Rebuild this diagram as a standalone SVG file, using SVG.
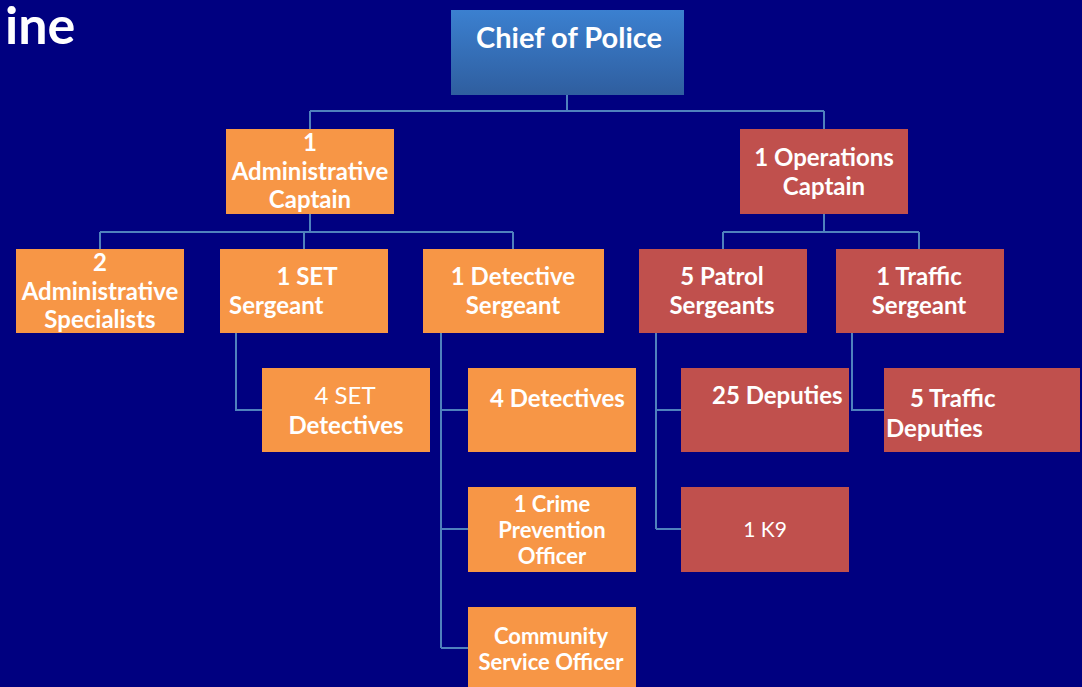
<svg xmlns="http://www.w3.org/2000/svg" width="1082" height="687" viewBox="0 0 1082 687">
<defs>
<linearGradient id="g" x1="0" y1="0" x2="0" y2="1"><stop offset="0" stop-color="#3b80d0"/><stop offset="1" stop-color="#2f5e9f"/></linearGradient>
<style>
.o{fill:#f79646}.r{fill:#c0504d}
text{font-family:Lato,"Open Sans","Liberation Sans",sans-serif;fill:#fff;font-weight:bold;font-size:24px}
.c{text-anchor:middle}.n{font-weight:normal}
.ln{fill:none;stroke:#4f81bd;stroke-width:2}
</style>
</defs>
<rect width="1082" height="687" fill="#000080"/>
<text x="5" y="44" style="font-size:52px">ine</text>
<g id="connectors" class="ln">
<path d="M567 95V111M310 111H824M310 111V129M824 111V129"/>
<path d="M310 214V232M100 232H513M100 232V249M304 232V249M513 232V249"/>
<path d="M824 214V232M723 232H919M723 232V249M919 232V249"/>
<path d="M236 333V410H262"/>
<path d="M441 333V648M441 410H468M441 529H468M441 648H468"/>
<path d="M656 333V529M656 410H681M656 529H681"/>
<path d="M852 333V410H884"/>
</g>
<g id="chief"><rect x="451" y="10" width="233" height="85" fill="url(#g)"/><text class="c" x="569" y="48" style="font-size:29px">Chief of Police</text></g>
<g id="admin-captain"><rect class="o" x="226" y="129" width="168" height="85"/><text class="c" x="310" y="151">1</text><text class="c" x="310" y="180">Administrative</text><text class="c" x="310" y="208">Captain</text></g>
<g id="ops-captain"><rect class="r" x="740" y="129" width="168" height="85"/><text class="c" x="824" y="166">1 Operations</text><text class="c" x="824" y="195">Captain</text></g>
<g id="admin-spec"><rect class="o" x="16" y="249" width="168" height="84"/><text class="c" x="100" y="271">2</text><text class="c" x="100" y="300">Administrative</text><text class="c" x="100" y="328">Specialists</text></g>
<g id="set-sgt"><rect class="o" x="220" y="249" width="168" height="84"/><text class="c" x="307" y="285">1 SET</text><text x="229" y="314">Sergeant</text></g>
<g id="det-sgt"><rect class="o" x="423" y="249" width="181" height="84"/><text class="c" x="513" y="285">1 Detective</text><text class="c" x="513" y="314">Sergeant</text></g>
<g id="patrol-sgt"><rect class="r" x="639" y="249" width="168" height="84"/><text class="c" x="722" y="285">5 Patrol</text><text class="c" x="722" y="314">Sergeants</text></g>
<g id="traffic-sgt"><rect class="r" x="836" y="249" width="168" height="84"/><text class="c" x="919" y="285">1 Traffic</text><text class="c" x="919" y="314">Sergeant</text></g>
<g id="set-det"><rect class="o" x="262" y="368" width="168" height="84"/><text class="c n" x="345" y="404">4 SET</text><text class="c" x="346" y="434">Detectives</text></g>
<g id="detectives"><rect class="o" x="468" y="368" width="168" height="84"/><text x="490" y="407">4 Detectives</text></g>
<g id="deputies"><rect class="r" x="681" y="368" width="168" height="84"/><text x="712" y="404">25 Deputies</text></g>
<g id="traffic-dep"><rect class="r" x="884" y="368" width="196" height="84"/><text x="910" y="407">5 Traffic</text><text x="886" y="437">Deputies</text></g>
<g id="crime-prev"><rect class="o" x="468" y="487" width="168" height="85"/><text class="c" x="552" y="512" style="font-size:22px">1 Crime</text><text class="c" x="552" y="538" style="font-size:22px">Prevention</text><text class="c" x="552" y="564" style="font-size:22px">Officer</text></g>
<g id="k9"><rect class="r" x="681" y="487" width="168" height="85"/><text class="c n" x="765" y="537" style="font-size:21px">1 K9</text></g>
<g id="cso"><rect class="o" x="468" y="607" width="168" height="85"/><text class="c" x="551" y="644" style="font-size:22px">Community</text><text class="c" x="551" y="670" style="font-size:22px">Service Officer</text></g>
</svg>
